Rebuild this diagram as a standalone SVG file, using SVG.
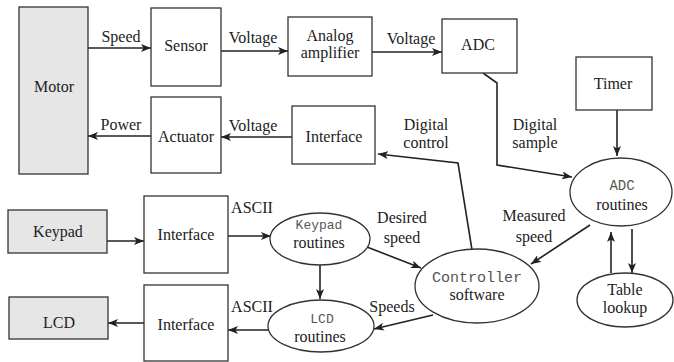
<svg xmlns="http://www.w3.org/2000/svg" width="674" height="362" viewBox="0 0 674 362">
<defs>
<marker id="ah" viewBox="0 0 10 8" refX="10" refY="4" markerWidth="10" markerHeight="8" markerUnits="userSpaceOnUse" orient="auto">
<path d="M0,0 L10,4 L0,8 L2.5,4 Z" fill="#222"/>
</marker>
<style>
.box{fill:#fff;stroke:#333;stroke-width:1.3}
.gray{fill:#e6e6e6;stroke:#333;stroke-width:1.3}
.ell{fill:#fff;stroke:#333;stroke-width:1.3}
.t{font-family:'Liberation Serif','Tinos','DejaVu Serif','Times New Roman',Times,serif;font-size:16px;fill:#222;text-anchor:middle}
.m{font-family:'Liberation Mono','Courier New',monospace;font-size:14px;fill:#555;text-anchor:middle}
.c{fill:none;stroke:#222;stroke-width:1.6;marker-end:url(#ah)}
</style>
</defs>
<rect width="674" height="362" fill="#fff"/>
<g id="connectors">
<line class="c" x1="88" y1="48" x2="151" y2="48"/>
<line class="c" x1="221" y1="51" x2="288" y2="51"/>
<line class="c" x1="372" y1="52" x2="442" y2="52"/>
<line class="c" x1="151" y1="136" x2="88" y2="136"/>
<line class="c" x1="292" y1="137" x2="221" y2="137"/>
<polyline class="c" points="483,73 497,83 497,165 572,177"/>
<line class="c" x1="617" y1="110" x2="617" y2="156"/>
<polyline class="c" points="472,250 458,163 378,154"/>
<line class="c" x1="107" y1="241" x2="144" y2="241"/>
<line class="c" x1="228" y1="236" x2="271" y2="236"/>
<line class="c" x1="320" y1="265" x2="320" y2="299"/>
<line class="c" x1="144" y1="323" x2="108" y2="323"/>
<line class="c" x1="269" y1="330" x2="228" y2="330"/>
<line class="c" x1="367" y1="247" x2="421" y2="268"/>
<line class="c" x1="590" y1="225" x2="531" y2="264"/>
<line class="c" x1="433" y1="315" x2="374" y2="329"/>
<line class="c" x1="611" y1="273" x2="611" y2="232"/>
<line class="c" x1="632" y1="229" x2="632" y2="273"/>
</g>
<g id="labels">
<text class="t" x="121" y="42" font-family="Liberation Serif, serif">Speed</text>
<text class="t" x="253" y="43">Voltage</text>
<text class="t" x="411" y="44">Voltage</text>
<text class="t" x="121" y="130">Power</text>
<text class="t" x="253" y="131">Voltage</text>
<text class="t" x="426" y="130">Digital</text>
<text class="t" x="426" y="148">control</text>
<text class="t" x="535" y="130">Digital</text>
<text class="t" x="535" y="148">sample</text>
<text class="t" x="252" y="213">ASCII</text>
<text class="t" x="252" y="312">ASCII</text>
<text class="t" x="402" y="223">Desired</text>
<text class="t" x="402" y="243">speed</text>
<text class="t" x="534" y="221">Measured</text>
<text class="t" x="534" y="242">speed</text>
<text class="t" x="392" y="312">Speeds</text>
</g>
<g id="motor"><rect class="gray" x="19" y="7" width="69" height="167"/><text class="t" x="54" y="92">Motor</text></g>
<g id="sensor"><rect class="box" x="151" y="8" width="70" height="78"/><text class="t" x="186" y="51">Sensor</text></g>
<g id="amplifier"><rect class="box" x="288" y="17" width="84" height="59"/><text class="t" x="330" y="41">Analog</text><text class="t" x="330" y="58">amplifier</text></g>
<g id="adc"><rect class="box" x="442" y="19" width="75" height="54"/><text class="t" x="478" y="50">ADC</text></g>
<g id="timer"><rect class="box" x="576" y="57" width="76" height="53"/><text class="t" x="613" y="89">Timer</text></g>
<g id="actuator"><rect class="box" x="151" y="97" width="70" height="76"/><text class="t" x="186" y="142">Actuator</text></g>
<g id="interface-out"><rect class="box" x="292" y="106" width="83" height="58"/><text class="t" x="334" y="142">Interface</text></g>
<g id="keypad"><rect class="gray" x="8" y="210" width="99" height="43"/><text class="t" x="58" y="237">Keypad</text></g>
<g id="interface-keypad"><rect class="box" x="144" y="196" width="84" height="77"/><text class="t" x="186" y="240">Interface</text></g>
<g id="lcd"><rect class="gray" x="9" y="297" width="99" height="42"/><text class="t" x="59" y="328">LCD</text></g>
<g id="interface-lcd"><rect class="box" x="144" y="285" width="84" height="76"/><text class="t" x="186" y="330">Interface</text></g>
<g id="keypad-routines"><ellipse class="ell" cx="320" cy="239" rx="50" ry="26"/><text class="m" x="319" y="229" style="font-size:13px">Keypad</text><text class="t" x="319" y="248">routines</text></g>
<g id="lcd-routines"><ellipse class="ell" cx="321" cy="326" rx="53" ry="26"/><text class="m" x="322" y="323" style="font-size:13px">LCD</text><text class="t" x="320" y="342">routines</text></g>
<g id="controller"><ellipse class="ell" cx="477" cy="286" rx="62" ry="37"/><text class="m" x="477" y="282" style="font-size:15px">Controller</text><text class="t" x="477" y="300">software</text></g>
<g id="adc-routines"><ellipse class="ell" cx="621" cy="192" rx="51" ry="34"/><text class="m" x="622" y="190">ADC</text><text class="t" x="622" y="210">routines</text></g>
<g id="table-lookup"><ellipse class="ell" cx="625" cy="300" rx="48" ry="27"/><text class="t" x="625" y="295">Table</text><text class="t" x="625" y="313">lookup</text></g>
</svg>
